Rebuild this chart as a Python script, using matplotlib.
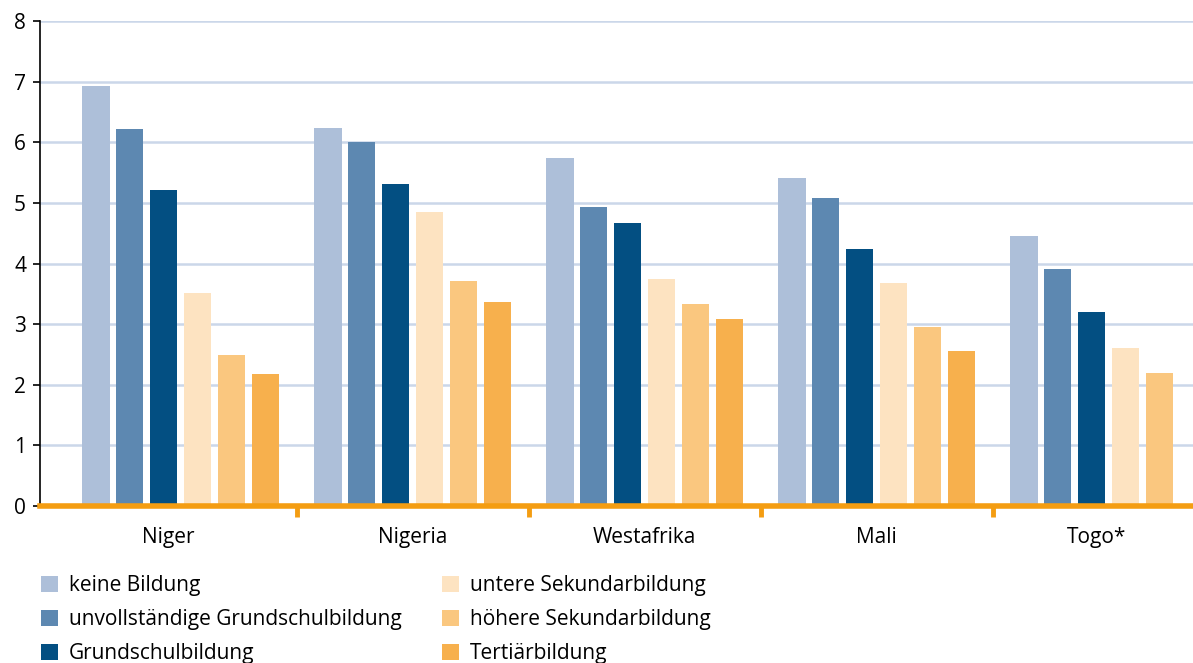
import matplotlib.pyplot as plt
import numpy as np
from matplotlib.patches import Patch

plt.rcParams['font.family'] = ['Open Sans', 'DejaVu Sans']

countries = ['Niger', 'Nigeria', 'Westafrika', 'Mali', 'Togo*']
levels = ['keine Bildung', 'unvollständige Grundschulbildung', 'Grundschulbildung',
          'untere Sekundarbildung', 'höhere Sekundarbildung', 'Tertiärbildung']

keine = [6.93, 6.24, 5.74, 5.41, 4.46]
unvollst = [6.22, 6.01, 4.93, 5.08, 3.91]
grund = [5.21, 5.31, 4.67, 4.24, 3.20]
untere_sek = [3.51, 4.85, 3.75, 3.68, 2.61]
hoehere_sek = [2.49, 3.71, 3.33, 2.95, 2.19]
tertiaer = [2.18, 3.37, 3.09, 2.56, np.nan]  # Togo: kein Wert

series = [keine, unvollst, grund, untere_sek, hoehere_sek, tertiaer]
colors = ['#adbfd9', '#5d88b1', '#034f82', '#fde3c1', '#fac77f', '#f7b04d']
orange = '#f49d12'

fig = plt.figure(figsize=(11.93, 6.63), dpi=100)
xmin, xmax = -0.606, 4.40
ax_w = (xmax - xmin) * 232 / 1193   # axes may run a bit past the right edge
ax = fig.add_axes([40 / 1193, 157 / 663, ax_w, 485 / 663])

x = np.arange(len(countries))
width = 0.118
step = 0.146
for k, (vals, c) in enumerate(zip(series, colors)):
    ax.bar(x + (k - 2.5) * step, vals, width=width, color=c, label=levels[k], zorder=3)

ax.set_xlim(xmin, xmax)
ax.set_ylim(0, 8)
ax.set_yticks(range(0, 9))
ax.yaxis.grid(True, color='#cbd7e9', linewidth=1.8, zorder=0)
ax.tick_params(axis='y', length=5, width=1.2, color='black', labelsize=15, pad=5)

for s in ['top', 'right']:
    ax.spines[s].set_visible(False)
ax.spines['left'].set_linewidth(1.2)
ax.spines['bottom'].set_color(orange)
ax.spines['bottom'].set_linewidth(4)
ax.spines['bottom'].set_zorder(4)

# orange boundary ticks, labels centred between ticks / axis edges
bounds = x[:-1] + 0.5
ax.set_xticks(bounds)
ax.set_xticklabels([])
ax.tick_params(axis='x', which='major', length=8, width=3.5, color=orange, direction='out')
edges = np.concatenate([[xmin], bounds, [xmax]])
label_pos = (edges[:-1] + edges[1:]) / 2
ax.set_xticks(label_pos, minor=True)
ax.set_xticklabels(countries, minor=True)
ax.tick_params(axis='x', which='minor', length=0, labelsize=15, pad=15)

handles = [Patch(facecolor=c, edgecolor='none') for c in colors]
fig.legend(handles, levels, loc='upper left', bbox_to_anchor=(33 / 1193, 1 - 567 / 663),
           ncol=2, frameon=False, fontsize=15, handlelength=0.78, handleheight=0.78,
           handletextpad=0.55, labelspacing=0.62, columnspacing=1.95, borderaxespad=0)

fig.savefig('out.png', dpi=100)
